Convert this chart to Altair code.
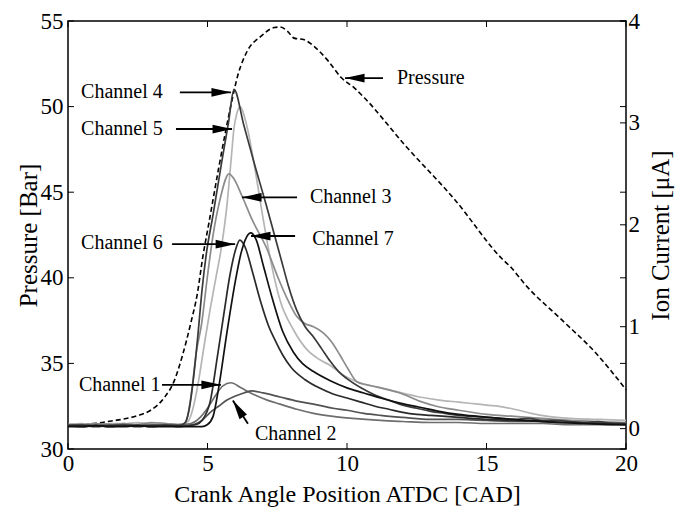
import altair as alt
import pandas as pd

FONT = "Liberation Serif"
W, H = 558, 428

# ---------------- data ----------------
X_TICKS = [0, 5, 10, 15, 20]
P_TICKS = [30, 35, 40, 45, 50, 55]
I_TICKS = [0, 1, 2, 3, 4]

# Pressure [Bar] vs crank angle
P_X = [0, 0.5, 1, 1.5, 2, 2.5, 2.95, 3.2, 3.45, 3.8, 4.1, 4.4, 4.65, 4.82,
       5.05, 5.4, 5.81, 6.1, 6.43, 6.91, 7.39, 7.6, 7.87, 8.1, 8.47, 8.83,
       9.31, 9.79, 10.27, 10.63, 12.07, 13.87, 15.54, 15.9, 16.38, 17.7, 18.9, 20]
P_V = [31.42, 31.45, 31.5, 31.62, 31.75, 31.95, 32.25, 32.55, 33.0, 33.95, 35.45, 37.35, 39.2, 41.1,
       43.2, 46.4, 49.85, 51.9, 53.26, 54.1, 54.62, 54.65, 54.4, 54.0, 53.9, 53.5,
       52.7, 51.7, 51.08, 50.5, 47.76, 44.55, 41.14, 40.57, 39.62, 37.54, 35.64, 33.47]

# Ion current [uA] per channel
CH1_X = [0, 0.5, 1, 1.5, 2, 2.5, 3, 3.5, 4, 4.4, 4.7, 5.0, 5.3, 5.55, 5.84, 6.2, 6.7, 7.14,
         7.6, 8.2, 8.8, 9.5, 10.2, 11.2, 12, 13, 14, 15, 16, 17, 18, 19, 20]
CH1_I = [0.04, 0.03, 0.04, 0.04, 0.03, 0.04, 0.04, 0.03, 0.04, 0.05, 0.1, 0.2, 0.33, 0.42, 0.45, 0.4, 0.33, 0.28,
         0.24, 0.19, 0.15, 0.12, 0.1, 0.08, 0.07, 0.06, 0.06, 0.05, 0.05, 0.05, 0.04, 0.04, 0.04]

CH2_X = [0, 0.5, 1, 1.5, 2, 2.5, 3, 3.5, 4, 4.5, 4.8, 5.1, 5.4, 5.7, 6.0, 6.3, 6.6, 7.0, 7.6,
         8.2, 8.8, 9.5, 10, 10.6, 11.2, 12, 13, 14, 15, 16, 17, 18, 19, 20]
CH2_I = [0.03, 0.04, 0.03, 0.03, 0.04, 0.03, 0.03, 0.04, 0.03, 0.04, 0.08, 0.16, 0.22, 0.28, 0.32, 0.35, 0.37, 0.35, 0.31,
         0.27, 0.24, 0.2, 0.18, 0.15, 0.13, 0.11, 0.09, 0.09, 0.08, 0.07, 0.07, 0.06, 0.06, 0.05]

CH3_X = [0, 0.5, 1, 1.5, 2, 2.5, 3, 3.5, 4, 4.2, 4.4, 4.6, 4.79, 5.0, 5.2, 5.45, 5.77, 5.95, 6.24,
         6.6, 7.12, 7.5, 7.9, 8.2, 8.5, 8.8, 9.15, 9.45, 9.75, 10.05, 10.35, 10.7, 11.06, 11.5,
         11.9, 12.6, 13.2, 14, 15, 16, 17, 18, 19, 20]
CH3_I = [0.04, 0.04, 0.05, 0.04, 0.05, 0.04, 0.06, 0.05, 0.04, 0.05, 0.3, 0.75, 1.03, 1.5, 1.9, 2.25, 2.5, 2.45, 2.28,
         2.05, 1.77, 1.5, 1.25, 1.1, 1.03, 1.0, 0.94, 0.85, 0.72, 0.58, 0.46, 0.43, 0.41, 0.38,
         0.35, 0.27, 0.22, 0.18, 0.14, 0.12, 0.1, 0.08, 0.07, 0.06]

CH4_X = [0, 0.5, 1, 1.5, 2, 2.5, 3, 3.5, 4, 4.2, 4.35, 4.5, 4.65, 4.8, 4.95, 5.2, 5.5, 5.75, 5.95,
         6.3, 6.7, 7.1, 7.4, 7.65, 7.9, 8.2, 8.5, 8.8, 9.1, 9.4, 9.7, 10, 10.5, 11, 11.5, 12,
         12.5, 13, 13.5, 14, 14.5, 15, 15.5, 16, 16.5, 17, 17.5, 18, 18.5, 19, 19.5, 20]
CH4_I = [0.03, 0.02, 0.03, 0.02, 0.03, 0.03, 0.02, 0.03, 0.03, 0.06, 0.2, 0.5, 0.9, 1.35, 1.7, 2.1, 2.6, 3.0, 3.33,
         2.98, 2.58, 2.2, 1.9, 1.65, 1.4, 1.16, 1.0, 0.9, 0.78, 0.66, 0.56, 0.49, 0.4, 0.33, 0.28, 0.23,
         0.2, 0.17, 0.15, 0.13, 0.12, 0.11, 0.1, 0.09, 0.1, 0.08, 0.08, 0.07, 0.06, 0.07, 0.05, 0.05]

CH5_X = [0, 0.5, 1, 1.5, 2, 2.5, 3, 3.5, 4, 4.3, 4.5, 4.7, 4.9, 5.1, 5.3, 5.5, 5.7, 5.85, 5.95, 6.04, 6.16,
         6.41, 6.7, 7.0, 7.3, 7.6, 8.08, 8.55, 9.0, 9.4, 9.9, 10.35, 11.2, 11.8, 12.6, 13.3, 14,
         14.7, 15.4, 16, 16.6, 17.2, 18, 19, 20]
CH5_I = [0.04, 0.05, 0.04, 0.05, 0.05, 0.06, 0.05, 0.05, 0.04, 0.07, 0.22, 0.5, 0.85, 1.18, 1.48, 1.78, 2.2, 2.65, 2.95, 3.08, 3.16,
         2.97, 2.55, 2.05, 1.6, 1.26, 0.97, 0.78, 0.68, 0.62, 0.52, 0.46, 0.4, 0.36, 0.31, 0.28, 0.26,
         0.24, 0.22, 0.19, 0.15, 0.12, 0.1, 0.09, 0.08]

CH6_X = [0, 0.5, 1, 1.5, 2, 2.5, 3, 3.5, 4, 4.6, 4.8, 5.1, 5.35, 5.6, 5.8, 6.0, 6.16, 6.35, 6.6,
         6.9, 7.2, 7.4, 7.7, 8.0, 8.5, 9.0, 9.5, 10, 10.5, 11, 11.5, 12, 12.5, 13, 14, 15, 16,
         17, 18, 19, 20]
CH6_I = [0.03, 0.03, 0.02, 0.03, 0.03, 0.02, 0.03, 0.03, 0.02, 0.04, 0.08, 0.27, 0.7, 1.15, 1.5, 1.75, 1.85, 1.78, 1.55,
         1.25, 1.0, 0.88, 0.72, 0.6, 0.48, 0.4, 0.34, 0.3, 0.26, 0.22, 0.19, 0.16, 0.14, 0.13, 0.11, 0.09, 0.08,
         0.07, 0.06, 0.05, 0.04]

CH7_X = [0, 0.5, 1, 1.5, 2, 2.5, 3, 3.5, 4, 4.5, 4.8, 5.0, 5.2, 5.4, 5.7, 6.0, 6.2, 6.4, 6.55,
         6.75, 7.0, 7.3, 7.7, 8.08, 8.4, 8.8, 9.4, 10, 10.6, 11.2, 11.9, 12.6, 13.3, 14, 14.7,
         15.5, 16.5, 17.5, 18.5, 19.5, 20]
CH7_I = [0.02, 0.02, 0.03, 0.02, 0.02, 0.03, 0.02, 0.02, 0.02, 0.02, 0.02, 0.04, 0.12, 0.4, 0.95, 1.45, 1.72, 1.88, 1.92,
         1.85, 1.6, 1.3, 0.95, 0.75, 0.64, 0.56, 0.47, 0.4, 0.35, 0.3, 0.25, 0.21, 0.17, 0.14, 0.12,
         0.1, 0.08, 0.06, 0.05, 0.04, 0.04]

# drawing order (light first, dark on top) and grey levels
CHANNELS = [
    ("Channel 5", CH5_X, CH5_I, "#b5b5b5"),
    ("Channel 3", CH3_X, CH3_I, "#8c8c8c"),
    ("Channel 1", CH1_X, CH1_I, "#6e6e6e"),
    ("Channel 2", CH2_X, CH2_I, "#525252"),
    ("Channel 4", CH4_X, CH4_I, "#3a3a3a"),
    ("Channel 6", CH6_X, CH6_I, "#2a2a2a"),
    ("Channel 7", CH7_X, CH7_I, "#111111"),
]

# annotation labels (x in CAD, y in uA on the right axis)
LABELS = ["Channel 4", "Channel 5", "Channel 3", "Channel 7", "Channel 6", "Channel 1", "Channel 2", "Pressure"]
LABEL_X = [0.47, 0.47, 8.67, 8.75, 0.47, 0.39, 6.70, 11.79]
LABEL_Y = [3.30, 2.94, 2.27, 1.86, 1.82, 0.43, -0.057, 3.44]

# arrows: tail -> tip, with head angle
ARROW_TAIL_X = [4.01, 3.87, 8.21, 8.14, 3.73, 3.37, 6.45, 11.29]
ARROW_TAIL_Y = [3.30, 2.94, 2.27, 1.89, 1.81, 0.43, 0.048, 3.44]
ARROW_TIP_X = [5.84, 5.88, 6.24, 6.56, 5.99, 5.48, 5.91, 9.93]
ARROW_TIP_Y = [3.30, 2.94, 2.27, 1.89, 1.81, 0.43, 0.277, 3.44]
ARROW_ANGLE = [0, 0, 180, 180, 0, 0, 238, 180]

# ---------------- scales & axes ----------------
xscale = alt.Scale(domain=[0, 20], nice=False, zero=False)
pscale = alt.Scale(domain=[30, 55], nice=False, zero=False)
iscale = alt.Scale(domain=[-0.2, 4], nice=False, zero=False)

common_axis = dict(ticks=False, domain=False, grid=False, labelFont=FONT, labelFontSize=23,
                   labelColor="black", labelFlush=False, labelOverlap=False,
                   titleFont=FONT, titleFontWeight="normal", titleColor="black")

x_axis = alt.Axis(values=X_TICKS, labelPadding=3, title="Crank Angle Position ATDC [CAD]",
                  titleFontSize=24, titleY=52, titleBaseline="alphabetic", **common_axis)
left_axis = alt.Axis(orient="left", values=P_TICKS, labelPadding=5, title="Pressure [Bar]",
                     titleFontSize=25, titleX=-40, titleY=H / 2, titleAngle=270, titleAlign="center",
                     titleBaseline="middle", **common_axis)
right_axis = alt.Axis(orient="right", values=I_TICKS, labelPadding=2, title="Ion Current [μA]",
                      titleFontSize=25, titleX=34, titleY=H / 2, titleAngle=270, titleAlign="center",
                      titleBaseline="middle", **common_axis)


def X(field):
    return alt.X(field, scale=xscale, axis=x_axis)


def YP(field):
    return alt.Y(field, scale=pscale, axis=left_axis)


def YI(field):
    return alt.Y(field, scale=iscale, axis=right_axis)


# ---------------- pressure group (left axis) ----------------
p_df = pd.DataFrame({"x": P_X, "p": P_V})
pressure_line = alt.Chart(p_df).mark_line(
    color="black", strokeWidth=1.6, strokeDash=[5, 3], interpolate="monotone"
).encode(x=X("x:Q"), y=YP("p:Q"))

pt_df = pd.DataFrame({"v": P_TICKS})
p_ticks_left = alt.Chart(pt_df).mark_rule(color="black", strokeWidth=1).encode(
    y=YP("v:Q"), x=alt.value(0), x2=alt.value(6))
p_ticks_right = alt.Chart(pt_df).mark_rule(color="black", strokeWidth=1).encode(
    y=YP("v:Q"), x=alt.value(W), x2=alt.value(W - 6))

xt_df = pd.DataFrame({"v": X_TICKS})
x_ticks_bottom = alt.Chart(xt_df).mark_rule(color="black", strokeWidth=1).encode(
    x=X("v:Q"), y=alt.value(H), y2=alt.value(H - 6))
x_ticks_top = alt.Chart(xt_df).mark_rule(color="black", strokeWidth=1).encode(
    x=X("v:Q"), y=alt.value(0), y2=alt.value(6))

p_group = alt.layer(pressure_line, p_ticks_left, p_ticks_right, x_ticks_bottom, x_ticks_top)

# ---------------- ion current group (right axis) ----------------
ion_layers = []
for name, xs, ys, col in CHANNELS:
    assert len(xs) == len(ys), name
    df = pd.DataFrame({"x": xs, "i": ys})
    ion_layers.append(
        alt.Chart(df).mark_line(color=col, strokeWidth=1.7, interpolate="monotone").encode(
            x=X("x:Q"), y=YI("i:Q"))
    )

it_df = pd.DataFrame({"v": I_TICKS})
i_ticks = alt.Chart(it_df).mark_rule(color="black", strokeWidth=1).encode(
    y=YI("v:Q"), x=alt.value(W), x2=alt.value(W - 6))

ar_df = pd.DataFrame({"tx": ARROW_TAIL_X, "ty": ARROW_TAIL_Y, "hx": ARROW_TIP_X,
                      "hy": ARROW_TIP_Y, "ang": ARROW_ANGLE})
arrow_shafts = alt.Chart(ar_df).mark_rule(color="black", strokeWidth=1.8).encode(
    x=X("tx:Q"), x2="hx:Q", y=YI("ty:Q"), y2="hy:Q")
arrow_heads = alt.Chart(ar_df).mark_point(
    shape="M0,0 L-2,-0.45 L-2,0.45 Z", filled=True, size=380, color="black",
    strokeWidth=0, opacity=1
).encode(x=X("hx:Q"), y=YI("hy:Q"), angle=alt.Angle("ang:Q", scale=None))

lab_df = pd.DataFrame({"label": LABELS, "x": LABEL_X, "y": LABEL_Y})
labels = alt.Chart(lab_df).mark_text(
    align="left", baseline="middle", font=FONT, fontSize=20, color="black"
).encode(x=X("x:Q"), y=YI("y:Q"), text="label:N")

i_group = alt.layer(*ion_layers, i_ticks, arrow_shafts, arrow_heads, labels)

chart = alt.layer(p_group, i_group).resolve_scale(y="independent").properties(
    width=W, height=H,
    padding={"left": 60, "top": 13, "right": 49, "bottom": 58},
    autosize=alt.AutoSizeParams(type="none"),
    background="white",
).configure_view(stroke="black", strokeWidth=1.5)

chart.save("out.html", embed_options={"renderer": "svg", "actions": False})
